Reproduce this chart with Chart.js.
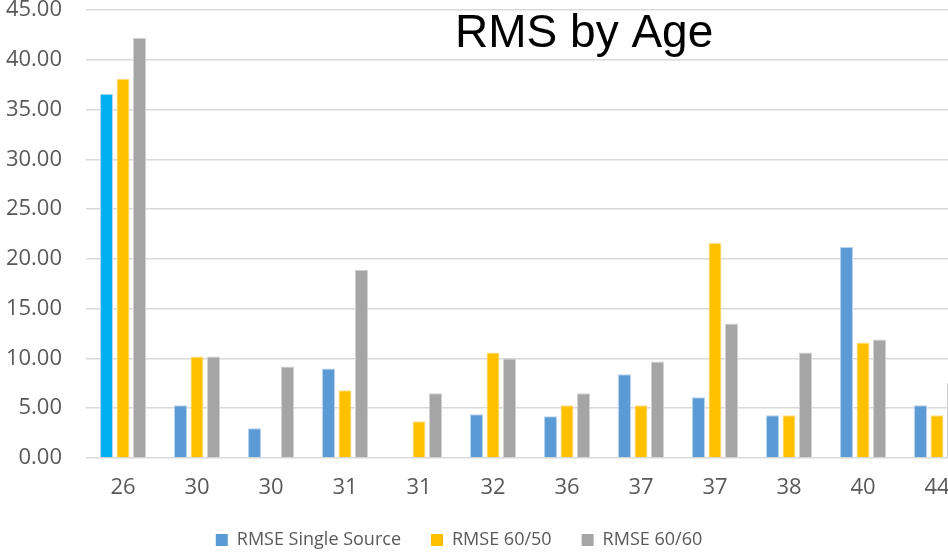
<!DOCTYPE html>
<html>
<head>
<meta charset="utf-8">
<script src="https://cdn.jsdelivr.net/npm/chart.js@4.4.1/dist/chart.umd.min.js"></script>
<style>
  html, body { margin: 0; padding: 0; background: #fff; overflow: hidden; }
  #frame { width: 948px; height: 559px; position: relative; overflow: hidden; }
  #wrap { width: 1030px; height: 559px; position: absolute; left: -56px; top: 0; }
</style>
</head>
<body>
<div id="frame"><div id="wrap"><canvas id="chart_rmsByAge"></canvas></div></div>
<script>
var ages = ['26', '30', '30', '31', '31', '32', '36', '37', '37', '38', '40', '44'];
var rmseSingleSource = [36.6, 5.3, 3.0, 9.0, 0, 4.4, 4.2, 8.4, 6.1, 4.3, 21.2, 5.3];
var rmse6050 = [38.1, 10.2, 0, 6.8, 3.7, 10.6, 5.3, 5.3, 21.6, 4.3, 11.6, 4.3];
var rmse6060 = [42.2, 10.2, 9.2, 18.9, 6.5, 10.0, 6.5, 9.7, 13.5, 10.6, 11.9, 7.5];

var blueColors = ages.map(function (a, i) { return i === 0 ? '#00B0F0' : '#5B9BD5'; });

var chart_rmsByAge = new Chart(document.getElementById('chart_rmsByAge'), {
    type: 'bar',
    data: {
        labels: ages,
        datasets: [
            {
                label: 'RMSE Single Source',
                data: rmseSingleSource,
                backgroundColor: blueColors,
                borderColor: '#B9D3EC',
                borderWidth: 1,
                legendColor: '#5B9BD5'
            },
            {
                label: 'RMSE 60/50',
                data: rmse6050,
                backgroundColor: '#FFC000',
                borderColor: '#FFE08A',
                borderWidth: 1
            },
            {
                label: 'RMSE 60/60',
                data: rmse6060,
                backgroundColor: '#A5A5A5',
                borderColor: '#D2D2D2',
                borderWidth: 1
            }
        ]
    },
    options: {
        animation: false,
        responsive: true,
        maintainAspectRatio: false,
        datasets: {
            bar: {
                barPercentage: 0.79,
                categoryPercentage: 0.67
            }
        },
        layout: {
            padding: 0
        },
        plugins: {
            title: { display: false },
            tooltip: { enabled: false },
            legend: {
                position: 'bottom',
                labels: {
                    boxWidth: 12,
                    boxHeight: 12,
                    padding: 30,
                    color: '#595959',
                    font: { family: "'Open Sans', sans-serif", size: 18 },
                    generateLabels: function (chart) {
                        return chart.data.datasets.map(function (ds, i) {
                            var c = ds.legendColor || ds.backgroundColor;
                            return {
                                text: ds.label,
                                fillStyle: c,
                                strokeStyle: c,
                                lineWidth: 0,
                                fontColor: '#595959',
                                datasetIndex: i
                            };
                        });
                    }
                }
            }
        },
        scales: {
            x: {
                afterFit: function (scale) { scale.height = 43; },
                grid: { display: false, drawTicks: false },
                border: { display: false },
                ticks: {
                    color: '#595959',
                    padding: 17,
                    maxRotation: 0,
                    autoSkip: false,
                    font: { family: "'Open Sans', sans-serif", size: 22 }
                }
            },
            y: {
                min: 0,
                max: 45,
                afterFit: function (scale) {
                    scale.width = 142;
                    scale.paddingTop = 10;
                    scale.paddingBottom = 10;
                },
                grid: { color: '#D9D9D9', lineWidth: 1.5, drawTicks: false },
                border: { display: false },
                ticks: {
                    stepSize: 5,
                    padding: 24,
                    color: '#595959',
                    font: { family: "'Open Sans', sans-serif", size: 22 },
                    callback: function (value) { return value.toFixed(2); }
                }
            }
        }
    },
    plugins: [{
        id: 'insideTitle',
        afterDraw: function (chart) {
            var ctx = chart.ctx;
            var area = chart.chartArea;
            ctx.save();
            ctx.fillStyle = '#000000';
            ctx.font = "46px 'Liberation Sans', Arial, sans-serif";
            ctx.textAlign = 'center';
            ctx.textBaseline = 'alphabetic';
            ctx.fillText('RMS by Age', area.left + (area.right - area.left) * 0.561, area.top + 37);
            ctx.restore();
        }
    }, {
        id: 'whiteBg',
        beforeDraw: function (chart) {
            var ctx = chart.canvas.getContext('2d');
            ctx.save();
            ctx.globalCompositeOperation = 'destination-over';
            ctx.fillStyle = 'white';
            ctx.fillRect(0, 0, chart.canvas.width, chart.canvas.height);
            ctx.restore();
        }
    }]
});
</script>
</body>
</html>
